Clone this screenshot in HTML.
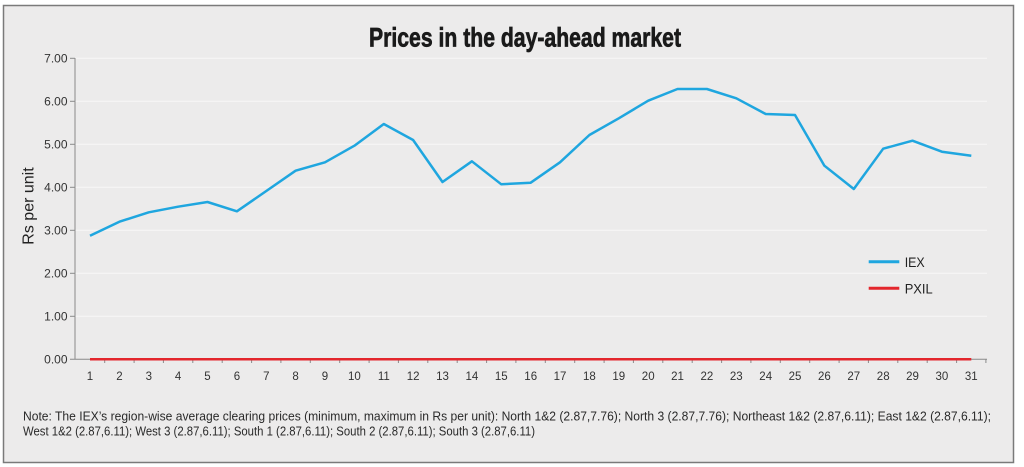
<!DOCTYPE html>
<html>
<head>
<meta charset="utf-8">
<style>
html,body{margin:0;padding:0;background:#ffffff;}
svg{display:block;}
text{font-family:"Liberation Sans",Arial,sans-serif;}
</style>
</head>
<body>
<svg width="1024" height="467" viewBox="0 0 1024 467" xmlns="http://www.w3.org/2000/svg">
  <rect x="0" y="0" width="1024" height="467" fill="#ffffff"/>
  <rect x="3.5" y="5.5" width="1010" height="457" fill="#ecebeb" stroke="#7a7a7a" stroke-width="1.5"/>

  <!-- Title -->
  <text x="369" y="46.7" font-size="27" font-weight="bold" fill="#1a1a1a" stroke="#1a1a1a" stroke-width="0.7" textLength="312" lengthAdjust="spacingAndGlyphs" style="font-family:'Liberation Sans Narrow','Liberation Sans',sans-serif;">Prices in the day-ahead market</text>

  <!-- Gridlines -->
  <g stroke="#f8f8f8" stroke-width="1">
    <line x1="75" y1="58.3" x2="987" y2="58.3"/>
    <line x1="75" y1="101.3" x2="987" y2="101.3"/>
    <line x1="75" y1="144.3" x2="987" y2="144.3"/>
    <line x1="75" y1="187.3" x2="987" y2="187.3"/>
    <line x1="75" y1="230.3" x2="987" y2="230.3"/>
    <line x1="75" y1="273.3" x2="987" y2="273.3"/>
    <line x1="75" y1="316.3" x2="987" y2="316.3"/>
  </g>

  <!-- Axes -->
  <g stroke="#8a8a8a" stroke-width="1">
    <line x1="75" y1="58" x2="75" y2="359.3"/>
    <line x1="70" y1="359.3" x2="987" y2="359.3"/>
    <line x1="70" y1="58.3" x2="75" y2="58.3"/>
    <line x1="70" y1="101.3" x2="75" y2="101.3"/>
    <line x1="70" y1="144.3" x2="75" y2="144.3"/>
    <line x1="70" y1="187.3" x2="75" y2="187.3"/>
    <line x1="70" y1="230.3" x2="75" y2="230.3"/>
    <line x1="70" y1="273.3" x2="75" y2="273.3"/>
    <line x1="70" y1="316.3" x2="75" y2="316.3"/>
  </g>
  <g stroke="#8a8a8a" stroke-width="1" id="xticks">
    <line x1="104.7" y1="359.3" x2="104.7" y2="363"/>
    <line x1="134.1" y1="359.3" x2="134.1" y2="363"/>
    <line x1="163.4" y1="359.3" x2="163.4" y2="363"/>
    <line x1="192.8" y1="359.3" x2="192.8" y2="363"/>
    <line x1="222.2" y1="359.3" x2="222.2" y2="363"/>
    <line x1="251.6" y1="359.3" x2="251.6" y2="363"/>
    <line x1="280.9" y1="359.3" x2="280.9" y2="363"/>
    <line x1="310.3" y1="359.3" x2="310.3" y2="363"/>
    <line x1="339.7" y1="359.3" x2="339.7" y2="363"/>
    <line x1="369.1" y1="359.3" x2="369.1" y2="363"/>
    <line x1="398.4" y1="359.3" x2="398.4" y2="363"/>
    <line x1="427.8" y1="359.3" x2="427.8" y2="363"/>
    <line x1="457.2" y1="359.3" x2="457.2" y2="363"/>
    <line x1="486.6" y1="359.3" x2="486.6" y2="363"/>
    <line x1="515.9" y1="359.3" x2="515.9" y2="363"/>
    <line x1="545.3" y1="359.3" x2="545.3" y2="363"/>
    <line x1="574.7" y1="359.3" x2="574.7" y2="363"/>
    <line x1="604.1" y1="359.3" x2="604.1" y2="363"/>
    <line x1="633.4" y1="359.3" x2="633.4" y2="363"/>
    <line x1="662.8" y1="359.3" x2="662.8" y2="363"/>
    <line x1="692.2" y1="359.3" x2="692.2" y2="363"/>
    <line x1="721.6" y1="359.3" x2="721.6" y2="363"/>
    <line x1="750.9" y1="359.3" x2="750.9" y2="363"/>
    <line x1="780.3" y1="359.3" x2="780.3" y2="363"/>
    <line x1="809.7" y1="359.3" x2="809.7" y2="363"/>
    <line x1="839.1" y1="359.3" x2="839.1" y2="363"/>
    <line x1="868.4" y1="359.3" x2="868.4" y2="363"/>
    <line x1="897.8" y1="359.3" x2="897.8" y2="363"/>
    <line x1="927.2" y1="359.3" x2="927.2" y2="363"/>
    <line x1="956.6" y1="359.3" x2="956.6" y2="363"/>
    <line x1="985.9" y1="359.3" x2="985.9" y2="363"/>
  </g>

  <!-- Y labels -->
  <g font-size="12" fill="#333" text-anchor="end">
    <text x="67.5" y="62.6">7.00</text>
    <text x="67.5" y="105.6">6.00</text>
    <text x="67.5" y="148.6">5.00</text>
    <text x="67.5" y="191.6">4.00</text>
    <text x="67.5" y="234.6">3.00</text>
    <text x="67.5" y="277.6">2.00</text>
    <text x="67.5" y="320.6">1.00</text>
    <text x="67.5" y="363.6">0.00</text>
  </g>

  <text transform="translate(33.5,206) rotate(-90)" font-size="16" fill="#222" text-anchor="middle">Rs per unit</text>

  <!-- X labels -->
  <g font-size="11.5" fill="#333" text-anchor="middle">
    <text x="90" y="380">1</text>
    <text x="119.4" y="380">2</text>
    <text x="148.8" y="380">3</text>
    <text x="178.1" y="380">4</text>
    <text x="207.5" y="380">5</text>
    <text x="236.9" y="380">6</text>
    <text x="266.3" y="380">7</text>
    <text x="295.6" y="380">8</text>
    <text x="325" y="380">9</text>
    <text x="354.4" y="380">10</text>
    <text x="383.8" y="380">11</text>
    <text x="413.1" y="380">12</text>
    <text x="442.5" y="380">13</text>
    <text x="471.9" y="380">14</text>
    <text x="501.3" y="380">15</text>
    <text x="530.7" y="380">16</text>
    <text x="560" y="380">17</text>
    <text x="589.4" y="380">18</text>
    <text x="618.8" y="380">19</text>
    <text x="648.2" y="380">20</text>
    <text x="677.5" y="380">21</text>
    <text x="706.9" y="380">22</text>
    <text x="736.3" y="380">23</text>
    <text x="765.7" y="380">24</text>
    <text x="795" y="380">25</text>
    <text x="824.4" y="380">26</text>
    <text x="853.8" y="380">27</text>
    <text x="883.2" y="380">28</text>
    <text x="912.5" y="380">29</text>
    <text x="941.9" y="380">30</text>
    <text x="971.3" y="380">31</text>
  </g>

  <!-- PXIL series -->
  <line x1="90" y1="359.3" x2="971.3" y2="359.3" stroke="#e3262c" stroke-width="2.5"/>

  <!-- IEX series -->
  <polyline fill="none" stroke="#1fa6df" stroke-width="2.5" stroke-linejoin="round" points="90,235.7 119.4,221.7 148.8,212.3 178.1,206.7 207.5,202 236.9,211.3 266.3,191 295.6,170.7 325,162.3 354.4,145.7 383.8,124 413.1,140 442.5,182 471.9,161.3 501.3,184.3 530.7,182.7 560,162.3 589.4,135 618.8,118.3 648.2,100.7 677.5,89 706.9,89 736.3,98.3 765.7,114 795,115 824.4,165.7 853.8,189 883.2,148.7 912.5,140.7 941.9,151.7 971.3,155.7"/>

  <!-- Legend -->
  <line x1="868.7" y1="261.7" x2="899.3" y2="261.7" stroke="#1fa6df" stroke-width="3"/>
  <text x="904.7" y="267" font-size="14" fill="#222" textLength="20" lengthAdjust="spacingAndGlyphs">IEX</text>
  <line x1="868.7" y1="288.3" x2="899.3" y2="288.3" stroke="#e3262c" stroke-width="3"/>
  <text x="904.7" y="293.5" font-size="14" fill="#222" textLength="28" lengthAdjust="spacingAndGlyphs">PXIL</text>

  <!-- Note -->
  <text x="23" y="420.7" font-size="12.5" fill="#2a2a2a" textLength="968" lengthAdjust="spacingAndGlyphs">Note: The IEX’s region-wise average clearing prices (minimum, maximum in Rs per unit):  North 1&amp;2 (2.87,7.76); North 3 (2.87,7.76); Northeast 1&amp;2 (2.87,6.11); East 1&amp;2 (2.87,6.11);</text>
  <text x="23" y="435.3" font-size="12.5" fill="#2a2a2a" textLength="512" lengthAdjust="spacingAndGlyphs">West 1&amp;2 (2.87,6.11); West 3 (2.87,6.11); South 1 (2.87,6.11); South 2 (2.87,6.11); South 3 (2.87,6.11)</text>
</svg>
</body>
</html>
